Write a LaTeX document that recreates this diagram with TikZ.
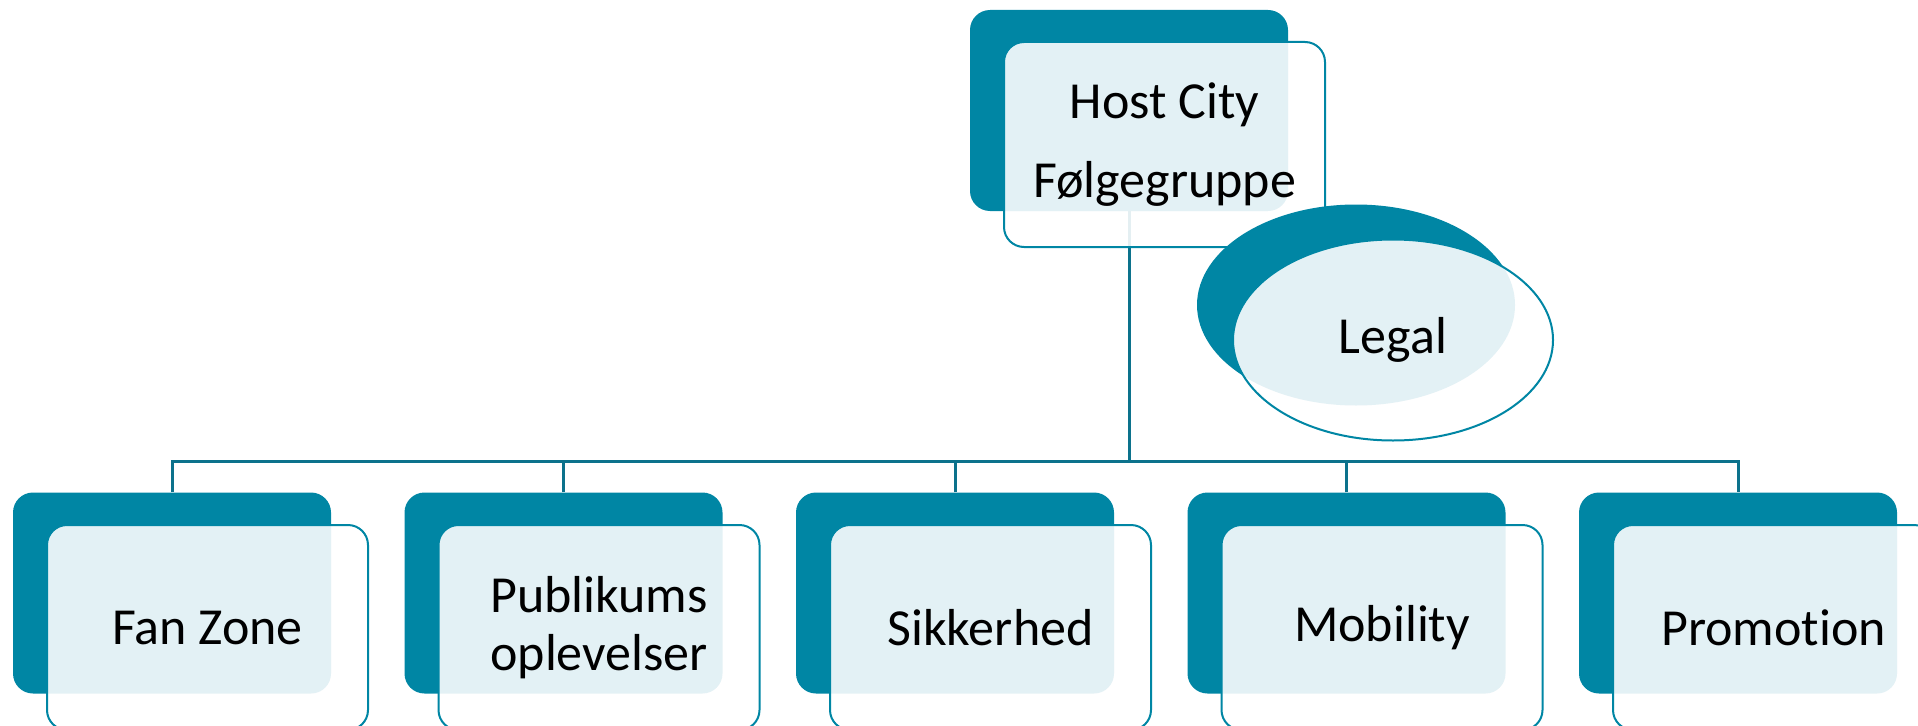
\documentclass[tikz,border=0pt]{standalone}
\usepackage{fontspec}
\setmainfont{Carlito}[Ligatures=CommonOff]
\usetikzlibrary{shapes.geometric,backgrounds}

\definecolor{tealdark}{RGB}{0,134,164}
\definecolor{tealline}{RGB}{12,114,140}
\newcommand{\boxfont}{\fontsize{52}{79}\selectfont}
\newcommand{\twofont}{\fontsize{52}{58}\selectfont}

\tikzset{
  backbox/.style={rectangle, rounded corners=20pt, fill=tealdark,
    minimum width=318pt, minimum height=201pt, inner sep=0pt},
  frontbox/.style={rectangle, rounded corners=20pt, draw=tealdark, line width=2pt,
    fill=white, fill opacity=0.89, text opacity=1, draw opacity=1,
    minimum width=321pt, minimum height=205pt, inner sep=0pt,
    align=center, font=\boxfont},
  backoval/.style={ellipse, fill=tealdark, minimum width=318pt,
    minimum height=201pt, inner sep=0pt},
  frontoval/.style={ellipse, draw=tealdark, line width=2pt,
    fill=white, fill opacity=0.89, text opacity=1, draw opacity=1,
    minimum width=320pt, minimum height=201pt, inner sep=0pt, font=\boxfont},
  link/.style={draw=tealline, line width=3pt},
}

\begin{document}
\begin{tikzpicture}[x=1pt, y=-1pt]
        \useasboundingbox (0,0) rectangle (1918,725);
        \clip (0,0) rectangle (1918,725);

        % top
        \node[backbox] (hostback) at (1129,110.5) {};
        \node[frontbox] (host) at (1164.5,144.5) {Host City\\Følgegruppe};

        % assistant
        \node[backoval] (legalback) at (1356,305) {};
        \node[frontoval] (legal) at (1393,340) {Legal};

        % bottom row
        \node[backbox] (fanzoneback) at (172,593) {};
        \node[backbox] (publikumback) at (563.5,593) {};
        \node[backbox] (sikkerhedback) at (955,593) {};
        \node[backbox] (mobilityback) at (1346.5,593) {};
        \node[backbox] (promotionback) at (1738,593) {};

        \node[frontbox] (fanzone) at (207.5,627.5) {Fan Zone};
        \node[frontbox, font=\twofont] (publikum) at (599,627.5) {Publikums\\oplevelser};
        \node[frontbox] (sikkerhed) at (990.5,627.5) {Sikkerhed};
        \node[frontbox] (mobility) at (1382,627.5) {Mobility};
        \node[frontbox] (promotion) at (1773.5,627.5) {Promotion};

        \coordinate (bus) at (1129,461);

        \begin{pgfonlayer}{background}
        \draw[link] (hostback.south) -- (bus);
        \draw[link] (fanzoneback.north) |- (bus) -| (promotionback.north);
        \draw[link] (publikumback.north) -- (publikumback.north |- bus);
        \draw[link] (sikkerhedback.north) -- (sikkerhedback.north |- bus);
        \draw[link] (mobilityback.north) -- (mobilityback.north |- bus);
        \end{pgfonlayer}
\end{tikzpicture}
\end{document}
